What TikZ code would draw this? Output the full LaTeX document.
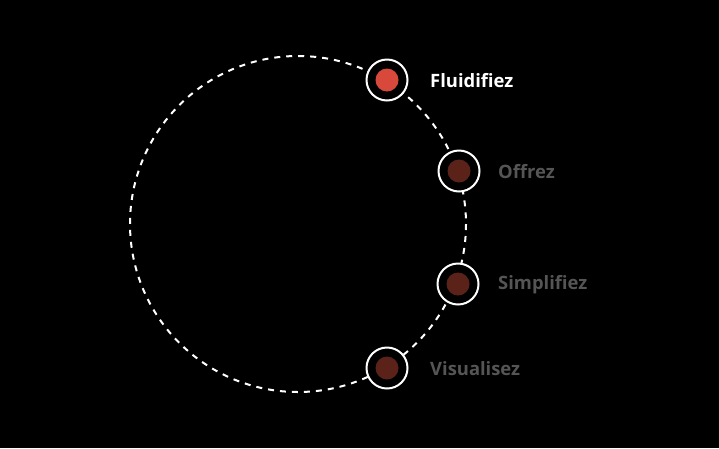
\documentclass[tikz,border=0pt]{standalone}
\usepackage{fontspec}
\setmainfont{Open Sans}
\definecolor{activered}{HTML}{D8483B}
\definecolor{dimred}{HTML}{5A2219}
\definecolor{dimtext}{HTML}{555555}
\begin{document}
\begin{tikzpicture}[x=1pt,y=-1pt,
  ring/.style={circle,draw=white,line width=2pt,fill=black,minimum size=41pt,inner sep=0pt},
  dotfill/.style={circle,fill=#1,minimum size=23pt,inner sep=0pt},
  lbl/.style={anchor=west,font=\fontsize{18.4}{21}\selectfont\bfseries,text=#1,inner sep=0pt}]
\fill[black] (0,0) rectangle (719,448);
\useasboundingbox (0,0) rectangle (719,448);
\coordinate (c) at (298,224);
\draw[white,line width=2pt,dash pattern=on 6pt off 6pt] (c) circle[radius=168];
\node[ring] (n1) at (387,80) {};
\node[dotfill=activered] (d1) at (n1) {};
\node[lbl=white] (l1) at (430,81) {Fluidifiez};
\node[ring] (n2) at (459,171) {};
\node[dotfill=dimred] (d2) at (n2) {};
\node[lbl=dimtext] (l2) at (498,172) {Offrez};
\node[ring] (n3) at (458,284) {};
\node[dotfill=dimred] (d3) at (n3) {};
\node[lbl=dimtext] (l3) at (498,285) {Simplifiez};
\node[ring] (n4) at (387,368) {};
\node[dotfill=dimred] (d4) at (n4) {};
\node[lbl=dimtext] (l4) at (430,369) {Visualisez};
\end{tikzpicture}
\end{document}
